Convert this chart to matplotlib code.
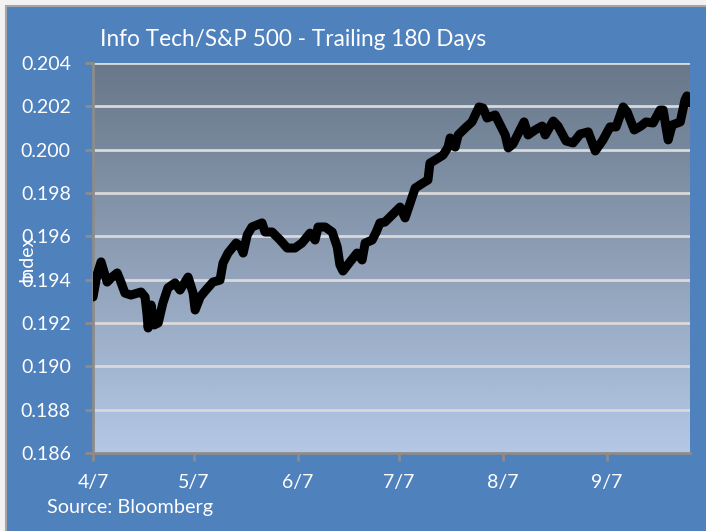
import matplotlib
matplotlib.use("Agg")
import matplotlib.pyplot as plt
from matplotlib.colors import LinearSegmentedColormap
from matplotlib.patches import Rectangle
import numpy as np
import pandas as pd

# ratio series, days counted from the first observation
START = "2011-04-07"
days = [
    0.0, 1.2, 2.4, 3.3, 4.2, 5.7, 7.2, 8.3, 9.5, 11.3, 14.3, 15.5, 16.1, 16.4,
    17.3, 18.2, 19.4, 20.8, 22.3, 24.4, 25.9, 28.3, 29.8, 30.4, 31.9, 33.6,
    35.7, 37.8, 38.7, 40.2, 42.6, 43.8, 44.7, 45.9, 47.3, 50.3, 51.2, 53.3,
    55.7, 57.8, 60.1, 62.2, 64.6, 66.1, 67.0, 69.1, 71.2, 72.7, 73.5, 74.4,
    76.5, 78.6, 80.1, 81.0, 83.1, 84.3, 85.4, 86.9, 89.0, 91.4, 92.9, 94.4,
    95.9, 98.2, 99.7, 100.3, 101.8, 104.2, 105.7, 106.3, 107.8, 108.7, 110.8,
    112.8, 114.9, 116.1, 117.3, 119.7, 121.2, 122.7, 123.6, 125.0, 127.1,
    128.3, 129.5, 131.6, 133.7, 134.6, 137.0, 138.4, 140.8, 142.9, 145.0,
    147.4, 149.5, 151.8, 153.9, 155.7, 157.8, 159.0, 161.1, 163.1, 164.6,
    166.7, 168.8, 169.7, 171.2, 172.4, 174.8, 176.2, 176.8, 177.7,
]
index_values = [
    0.19320, 0.19422, 0.19482, 0.19435, 0.19389, 0.19412, 0.19431, 0.19389,
    0.19338, 0.19329, 0.19343, 0.19320, 0.19237, 0.19177, 0.19283, 0.19191,
    0.19200, 0.19292, 0.19362, 0.19385, 0.19352, 0.19412, 0.19338, 0.19260,
    0.19320, 0.19352, 0.19389, 0.19398, 0.19477, 0.19523, 0.19569, 0.19555,
    0.19523, 0.19606, 0.19643, 0.19662, 0.19620, 0.19620, 0.19583, 0.19546,
    0.19546, 0.19569, 0.19615, 0.19583, 0.19643, 0.19643, 0.19620, 0.19551,
    0.19468, 0.19440, 0.19482, 0.19523, 0.19491, 0.19569, 0.19583, 0.19620,
    0.19662, 0.19666, 0.19698, 0.19735, 0.19685, 0.19754, 0.19823, 0.19846,
    0.19860, 0.19938, 0.19952, 0.19975, 0.20012, 0.20054, 0.20012, 0.20068,
    0.20100, 0.20128, 0.20197, 0.20192, 0.20146, 0.20160, 0.20114, 0.20068,
    0.20008, 0.20026, 0.20091, 0.20128, 0.20068, 0.20091, 0.20109, 0.20068,
    0.20132, 0.20109, 0.20040, 0.20031, 0.20072, 0.20082, 0.19994, 0.20045,
    0.20105, 0.20105, 0.20197, 0.20174, 0.20091, 0.20109, 0.20128, 0.20123,
    0.20183, 0.20183, 0.20045, 0.20114, 0.20128, 0.20229, 0.20248, 0.20215,
]
tick_dates = ["2011-04-07", "2011-05-07", "2011-06-07",
              "2011-07-07", "2011-08-07", "2011-09-07"]
tick_labels = ["4/7", "5/7", "6/7", "7/7", "8/7", "9/7"]
y_ticks = [0.186, 0.188, 0.190, 0.192, 0.194, 0.196, 0.198, 0.200, 0.202, 0.204]

BLUE = "#4F81BD"
GRID = "#D9D9D9"
AXIS = "#8C8C8C"

plt.rcParams["font.family"] = ["Lato", "DejaVu Sans"]

W, H = 706, 531
fig = plt.figure(figsize=(W / 100, H / 100), dpi=100, facecolor="#F2F2F2")

# chart frame, kept behind the axes
fig.patches.append(Rectangle((6 / W, -0.1), 1.2, 1 - 6 / H + 0.1,
                             transform=fig.transFigure, facecolor=BLUE,
                             edgecolor="#A6A6A6", linewidth=1.5, zorder=-10))

ax = fig.add_axes([93 / W, 1 - 453 / H, (690 - 93) / W, (453 - 63) / H])
ax.set_facecolor("none")

# vertical gradient fill of the plot area
cmap = LinearSegmentedColormap.from_list("pa", ["#B4C8E6", "#8E9FB6", "#687789"])
grad = np.linspace(0, 1, 256).reshape(-1, 1)
ax.imshow(grad, extent=[0, 1, 0, 1], transform=ax.transAxes, cmap=cmap,
          aspect="auto", origin="lower", zorder=0)

dates = pd.Timestamp(START) + pd.to_timedelta(days, unit="D")
ax.plot(dates, index_values, color="black", linewidth=6.5,
        solid_joinstyle="round", solid_capstyle="round", zorder=3)

ax.set_xlim(dates[0], dates[-1])
ax.set_ylim(y_ticks[0], y_ticks[-1])
ax.set_yticks(y_ticks)
ax.set_yticklabels([f"{v:.3f}" for v in y_ticks])
ax.set_xticks(pd.to_datetime(tick_dates))
ax.set_xticklabels(tick_labels)

ax.grid(axis="y", color=GRID, linewidth=2)
ax.grid(axis="x", visible=False)
for side in ["top", "right"]:
    ax.spines[side].set_visible(False)
for side in ["left", "bottom"]:
    ax.spines[side].set_color(AXIS)
    ax.spines[side].set_linewidth(2)
ax.tick_params(axis="both", colors=AXIS, labelcolor="white", labelsize=14,
               length=6, width=2)
ax.tick_params(axis="y", pad=10)
ax.tick_params(axis="x", pad=9)

fig.text(100 / W, 1 - 40 / H, "Info Tech/S&P 500 - Trailing 180 Days",
         color="white", fontsize=16.3, ha="left", va="center")
fig.text(27 / W, 1 - 258 / H, "Index", color="white", fontsize=14,
         rotation=90, ha="center", va="center")
fig.text(47 / W, 1 - 508 / H, "Source: Bloomberg", color="white",
         fontsize=14.3, ha="left", va="center")

fig.savefig("out.png", dpi=100, facecolor=fig.get_facecolor())
